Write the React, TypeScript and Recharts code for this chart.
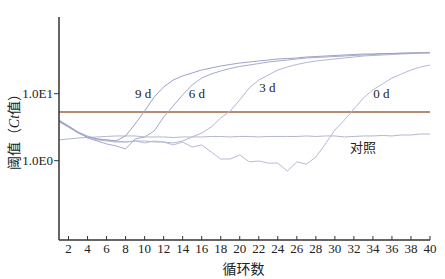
import React from 'react';
import { LineChart, Line, XAxis, YAxis, ReferenceLine, ReferenceDot } from 'recharts';

// 循环数 1..40
const cycles = Array.from({ length: 40 }, (_, i) => i + 1);

// 荧光值（对数坐标）
const day9 = [3.91, 3.18, 2.59, 2.26, 2.11, 2.04, 1.97, 2.34, 3.53, 5.52, 8.9, 12.6, 16.0, 18.4, 20.4, 22.6, 24.2, 25.9, 27.3, 28.7,
  29.7, 30.8, 31.8, 33.0, 33.5, 34.1, 35.3, 35.9, 36.5, 37.2, 37.8, 38.5, 39.1, 39.1, 39.8, 39.8, 40.5, 40.5, 40.9, 40.9];
const day6 = [4.05, 3.3, 2.68, 2.18, 1.97, 1.78, 1.66, 1.5, 2.11, 2.26, 2.77, 4.49, 6.55, 9.6, 13.5, 17.1, 19.7, 21.8, 23.8, 25.5,
  26.8, 28.2, 29.7, 30.8, 31.8, 33.0, 34.1, 34.7, 35.3, 35.9, 36.5, 37.2, 37.8, 38.5, 39.1, 39.8, 39.8, 40.5, 40.5, 40.9];
const day3 = [3.91, 3.3, 2.68, 2.34, 2.11, 2.04, 1.97, 1.9, 1.97, 1.97, 1.9, 1.9, 1.84, 1.97, 2.26, 2.59, 3.18, 4.34, 5.52, 8.05,
  12.2, 16.0, 19.0, 22.6, 25.0, 27.3, 29.2, 30.8, 31.8, 33.0, 34.1, 35.3, 36.5, 37.2, 37.8, 38.5, 39.1, 39.8, 40.5, 40.9];
const day0 = [3.78, 3.18, 2.68, 2.26, 2.04, 1.97, 1.9, 1.9, 1.97, 1.84, 1.97, 1.9, 1.72, 1.9, 1.6, 1.72, 1.35, 1.06, 1.06, 1.22,
  0.96, 0.99, 0.92, 0.92, 0.7, 0.96, 0.89, 1.13, 1.78, 2.87, 4.05, 5.91, 8.63, 11.4, 14.0, 17.1, 19.7, 22.6, 25.0, 26.8];
const control = [2.04, 2.11, 2.18, 2.22, 2.26, 2.3, 2.34, 2.34, 2.34, 2.26, 2.26, 2.26, 2.22, 2.26, 2.26, 2.26, 2.3, 2.3, 2.26, 2.3,
  2.3, 2.26, 2.3, 2.3, 2.3, 2.3, 2.34, 2.3, 2.34, 2.34, 2.26, 2.3, 2.34, 2.34, 2.38, 2.34, 2.42, 2.42, 2.5, 2.5];

const threshold = 5.33;
const xTicks = [2, 4, 6, 8, 10, 12, 14, 16, 18, 20, 22, 24, 26, 28, 30, 32, 34, 36, 38, 40];
const yTicks = [1, 10];
const yTickLabels: Record<number, string> = { 1: '1.0E0', 10: '1.0E1' };

// 曲线标注
const curveLabels = [
  { x: 9.84, y: 9.9, text: '9 d' },
  { x: 15.5, y: 10.2, text: '6 d' },
  { x: 22.9, y: 12.2, text: '3 d' },
  { x: 34.9, y: 10.2, text: '0 d' },
  { x: 32.95, y: 1.6, text: '对照' },
];

const data = cycles.map((c, i) => ({
  cycle: c,
  d9: day9[i],
  d6: day6[i],
  d3: day3[i],
  d0: day0[i],
  ctrl: control[i],
}));

const serif = '"Liberation Serif", "Times New Roman", "DejaVu Serif", "Noto Sans CJK SC", serif';
const textStyle = { fontFamily: serif };

const XTick = (props: any) => {
  const { x, y, payload } = props;
  return (
    <g>
      <line x1={x} x2={x} y1={y - 4} y2={y} stroke="#333" strokeWidth={1} />
      <text x={x} y={y + 13} textAnchor="middle" fontSize={13} style={textStyle} fill="#222">
        {payload.value}
      </text>
    </g>
  );
};

const YTick = (props: any) => {
  const { x, y, payload } = props;
  return (
    <text x={x} y={y} dy={4} textAnchor="end" fontSize={13} style={textStyle} fill="#222">
      {yTickLabels[payload.value] ?? ''}
    </text>
  );
};

const YLabel = (props: any) => {
  const vb = props.viewBox || { x: 0, y: 17, width: 59, height: 223 };
  const cx = 14;
  const cy = vb.y + vb.height / 2;
  return (
    <text
      x={cx}
      y={cy}
      transform={`rotate(-90, ${cx}, ${cy})`}
      textAnchor="middle"
      dominantBaseline="central"
      fontSize={14}
      style={textStyle}
      fill="#222"
    >
      阈值（<tspan fontStyle="italic">Ct</tspan>值）
    </text>
  );
};

const XLabel = (props: any) => {
  const vb = props.viewBox || { x: 59, y: 240, width: 371, height: 39 };
  return (
    <text
      x={vb.x + vb.width / 2 - 1}
      y={268}
      textAnchor="middle"
      dominantBaseline="central"
      fontSize={14}
      style={{ fontFamily: '"Noto Sans CJK SC", sans-serif' }}
      fill="#222"
    >
      循环数
    </text>
  );
};

const CurveLabel = (props: any) => {
  const { viewBox, value } = props;
  const cx = viewBox.x + (viewBox.width || 0) / 2;
  const cy = viewBox.y + (viewBox.height || 0) / 2;
  return (
    <text x={cx} y={cy} textAnchor="middle" dominantBaseline="central" fontSize={13} style={textStyle} fill="#222">
      {value}
    </text>
  );
};

export default function App() {
  return (
    <div style={{ position: 'absolute', left: 0, top: 0, width: 445, height: 279, background: '#fff' }}>
      <LineChart width={445} height={279} data={data} margin={{ top: 17, right: 15, left: 0, bottom: 0 }}>
        <XAxis
          dataKey="cycle"
          type="number"
          domain={[1, 40]}
          ticks={xTicks}
          interval={0}
          height={39}
          tickLine={false}
          tickSize={0}
          tickMargin={0}
          tick={<XTick />}
          axisLine={{ stroke: '#333', strokeWidth: 1.5 }}
          label={<XLabel />}
        />
        <YAxis
          scale="log"
          type="number"
          domain={[0.0655, 139.6]}
          allowDataOverflow
          ticks={yTicks}
          width={59}
          tickSize={5}
          tickMargin={1}
          tick={<YTick />}
          tickLine={{ stroke: '#333' }}
          axisLine={{ stroke: '#333', strokeWidth: 1.5 }}
          label={<YLabel />}
        />
        <ReferenceLine y={threshold} stroke="#b78b70" strokeWidth={2} />
        <Line dataKey="ctrl" stroke="#b3b6d2" strokeWidth={1} dot={false} type="linear" isAnimationActive={false} />
        <Line dataKey="d0" stroke="#b7bad5" strokeWidth={1} dot={false} type="linear" isAnimationActive={false} />
        <Line dataKey="d3" stroke="#b3b6d2" strokeWidth={1} dot={false} type="linear" isAnimationActive={false} />
        <Line dataKey="d6" stroke="#a6aacb" strokeWidth={1} dot={false} type="linear" isAnimationActive={false} />
        <Line dataKey="d9" stroke="#9ea2c5" strokeWidth={1} dot={false} type="linear" isAnimationActive={false} />
        {curveLabels.map((l) => (
          <ReferenceDot
            key={l.text}
            x={l.x}
            y={l.y}
            r={0}
            fill="none"
            stroke="none"
            label={<CurveLabel value={l.text} />}
          />
        ))}
      </LineChart>
    </div>
  );
}
